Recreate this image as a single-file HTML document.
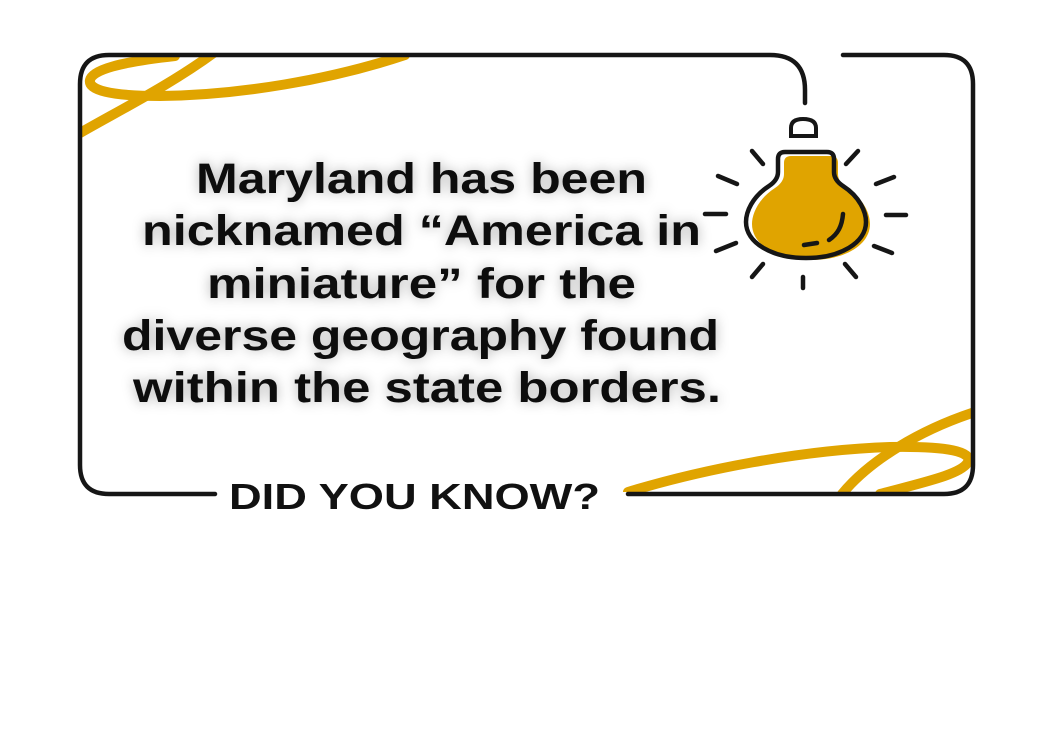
<!DOCTYPE html>
<html><head><meta charset="utf-8"><style>
html,body{margin:0;padding:0;background:#fff;}
svg{display:block;}
.t{font-family:"Liberation Sans",sans-serif;font-weight:bold;fill:#111;}
</style></head><body>
<svg width="1037" height="744" viewBox="0 0 1037 744" xmlns="http://www.w3.org/2000/svg">
<defs>
<filter id="glow" x="-10%" y="-30%" width="120%" height="160%">
<feGaussianBlur in="SourceAlpha" stdDeviation="6"/>
<feColorMatrix type="matrix" values="0 0 0 0 0  0 0 0 0 0  0 0 0 0 0  0 0 0 0.3 0"/>
<feMerge><feMergeNode/><feMergeNode in="SourceGraphic"/></feMerge>
</filter>
<clipPath id="box"><rect x="81" y="56" width="890" height="436" rx="28"/></clipPath>
</defs>
<g clip-path="url(#box)" fill="none" stroke="#E0A400" stroke-width="10" stroke-linecap="round">
<path d="M80,133 C120,110 170,85 215,52"/>
<path d="M405,55 C330,80 240,95 160,96 C110,96 88,90 90,80 C92,70 120,62 175,56"/>
<path d="M628,492 C700,470 800,450 890,447 C950,446 972,452 968,462 C962,474 925,482 880,494"/>
<path d="M842,494 C870,460 920,430 975,412"/>
</g>
<path d="M805,103 V90 Q805,55 770,55 H109 Q80,55 80,84 V465 Q80,494 109,494 H215 M628,494 H944 Q973,494 973,465 V84 Q973,55 944,55 H843" fill="none" stroke="#161616" stroke-width="4.5" stroke-linecap="round"/>
<g stroke="#161616" stroke-width="4.5" stroke-linecap="round" fill="none">
<path d="M791,136 V128 Q791,119 803,119 Q816,119 816,128 V136 Z" stroke-width="4"/>
<path d="M797,156 H831 Q838,156 838,163 V174 Q838,182 847,188 C864,199 870,214 870,224 C870,245 845,260 811,260 C777,260 752,245 752,224 C752,214 758,199 775,188 Q784,182 784,174 V163 Q784,156 791,156 Z" fill="#E0A400" stroke="none"/>
<path d="M785,152 H827 Q834,152 834,159 V172 Q834,180 843,186 C860,197 866,212 866,222 C866,243 840,258 806,258 C772,258 746,243 746,222 C746,212 752,197 769,186 Q778,180 778,172 V159 Q778,152 785,152 Z"/>
<path d="M843,214 C842,226 838,234 829,240"/>
<path d="M804,245 L817,243"/>
<path d="M752,151 L763,164"/><path d="M846,164 L858,151"/>
<path d="M718,176 L737,184"/><path d="M876,184 L894,177"/>
<path d="M705,214 L726,214"/><path d="M886,215 L906,215"/>
<path d="M716,251 L736,243"/><path d="M874,246 L892,253"/>
<path d="M752,277 L763,264"/><path d="M803,277 L803,288"/><path d="M845,264 L856,277"/>
</g>
<g class="t" font-size="43" filter="url(#glow)">
<text x="196" y="193" textLength="451" lengthAdjust="spacingAndGlyphs">Maryland has been</text>
<text x="142" y="245" textLength="559" lengthAdjust="spacingAndGlyphs">nicknamed “America in</text>
<text x="207" y="298" textLength="429" lengthAdjust="spacingAndGlyphs">miniature” for the</text>
<text x="122" y="350" textLength="597" lengthAdjust="spacingAndGlyphs">diverse geography found</text>
<text x="133" y="402" textLength="588" lengthAdjust="spacingAndGlyphs">within the state borders.</text>
</g>
<text class="t" x="229" y="509" font-size="36" textLength="371" lengthAdjust="spacingAndGlyphs">DID YOU KNOW?</text>
</svg>
</body></html>
